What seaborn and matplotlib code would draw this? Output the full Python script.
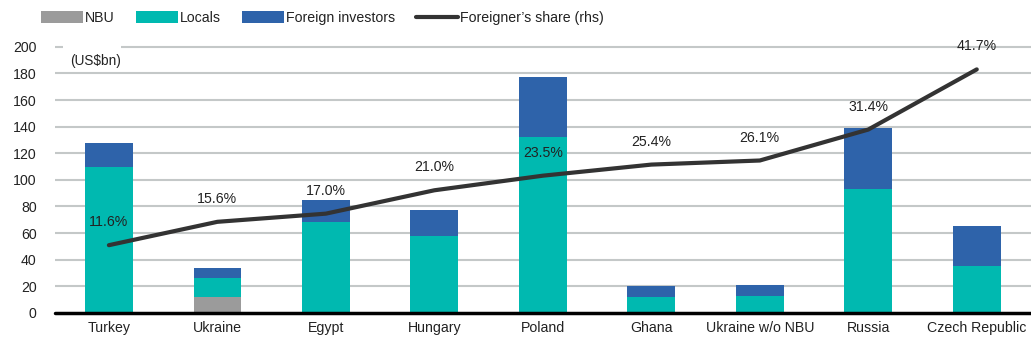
import numpy as np
import pandas as pd
import matplotlib
matplotlib.use("Agg")
import matplotlib.pyplot as plt
import seaborn as sns
from matplotlib.patches import Patch
from matplotlib.lines import Line2D

categories = ["Turkey", "Ukraine", "Egypt", "Hungary", "Poland", "Ghana",
              "Ukraine w/o NBU", "Russia", "Czech Republic"]
nbu = [0, 12, 0, 0, 0, 0, 0, 0, 0]
locals_ = [110, 14, 68, 58, 132, 12, 13, 93, 35]
foreign = [18, 8, 17, 19, 45, 8, 8, 46, 30]
share = [11.6, 15.6, 17.0, 21.0, 23.5, 25.4, 26.1, 31.4, 41.7]
share_labels = ["11.6%", "15.6%", "17.0%", "21.0%", "23.5%", "25.4%", "26.1%", "31.4%", "41.7%"]
yticks = [0, 20, 40, 60, 80, 100, 120, 140, 160, 180, 200]

C_NBU = "#9b9b9b"
C_LOC = "#00b9b0"
C_FOR = "#2e63aa"
C_LINE = "#333333"
C_TXT = "#222222"

sns.set_theme(style="white")
plt.rcParams['font.family'] = ['Liberation Sans Narrow', 'Liberation Sans', 'DejaVu Sans']
FS = 10.2

df = pd.DataFrame({"cat": categories, "nbu": nbu, "loc": locals_, "for": foreign})
df["b_loc"] = df["nbu"]
df["b_for"] = df["nbu"] + df["loc"]

fig = plt.figure(figsize=(10.31, 3.42), dpi=100)
ax = fig.add_axes([0.053, 0.085, 0.947, 0.778])

w = 0.44
kw = dict(width=w, ax=ax, saturation=1, zorder=3, linewidth=0, edgecolor="none")
sns.barplot(data=df, x="cat", y="nbu", color=C_NBU, **kw)
sns.barplot(data=df, x="cat", y="loc", bottom=df["b_loc"], color=C_LOC, **kw)
sns.barplot(data=df, x="cat", y="for", bottom=df["b_for"], color=C_FOR, **kw)

ax.set_xlim(-0.5, 8.5)
ax.set_ylim(0, 200)
ax.set_yticks(yticks)
ax.set_xlabel("")
ax.set_ylabel("")
for y in yticks[1:-1]:
    ax.axhline(y, color="#c4c8c8", lw=1.5, zorder=1)
# top gridline interrupted by the unit label
ax.hlines(200, -0.5, -0.426, color="#c4c8c8", lw=1.5, zorder=1, clip_on=False)
ax.hlines(200, 0.116, 8.5, color="#c4c8c8", lw=1.5, zorder=1, clip_on=False)
ax.axhline(0, color="black", lw=2.5, zorder=5, clip_on=False)
for s in ax.spines.values():
    s.set_visible(False)
ax.tick_params(axis="y", length=0, pad=13, labelsize=FS, colors=C_TXT)
ax.tick_params(axis="x", length=0, pad=6, labelsize=FS, colors=C_TXT)

ax.text(-0.36, 189, "(US$bn)", fontsize=FS - 0.4, color=C_TXT, ha="left", va="center", zorder=4)

ax2 = ax.twinx()
sns.lineplot(x=np.arange(len(categories)), y=share, color=C_LINE, lw=3, ax=ax2, zorder=6)
ax2.set_ylim(0, 45.56)
ax2.set_yticks([])
for s in ax2.spines.values():
    s.set_visible(False)
for i, (v, lab) in enumerate(zip(share, share_labels)):
    ax2.annotate(lab, (i, v), xytext=(0, 16.5), textcoords="offset points",
                 ha="center", va="center", fontsize=FS, color=C_TXT)

handles = [Patch(facecolor=C_NBU, edgecolor="none"),
           Patch(facecolor=C_LOC, edgecolor="none"),
           Patch(facecolor=C_FOR, edgecolor="none"),
           Line2D([], [], color=C_LINE, lw=3)]
labels = ["NBU", "Locals", "Foreign investors", "Foreigner\u2019s share (rhs)"]
fig.legend(handles, labels, loc="upper left", bbox_to_anchor=(0.027, 1.005), ncol=4,
           frameon=False, fontsize=FS, handlelength=3.0, handleheight=0.9,
           handletextpad=0.1, columnspacing=1.5, labelcolor=C_TXT)

fig.savefig("out.png", dpi=100)
